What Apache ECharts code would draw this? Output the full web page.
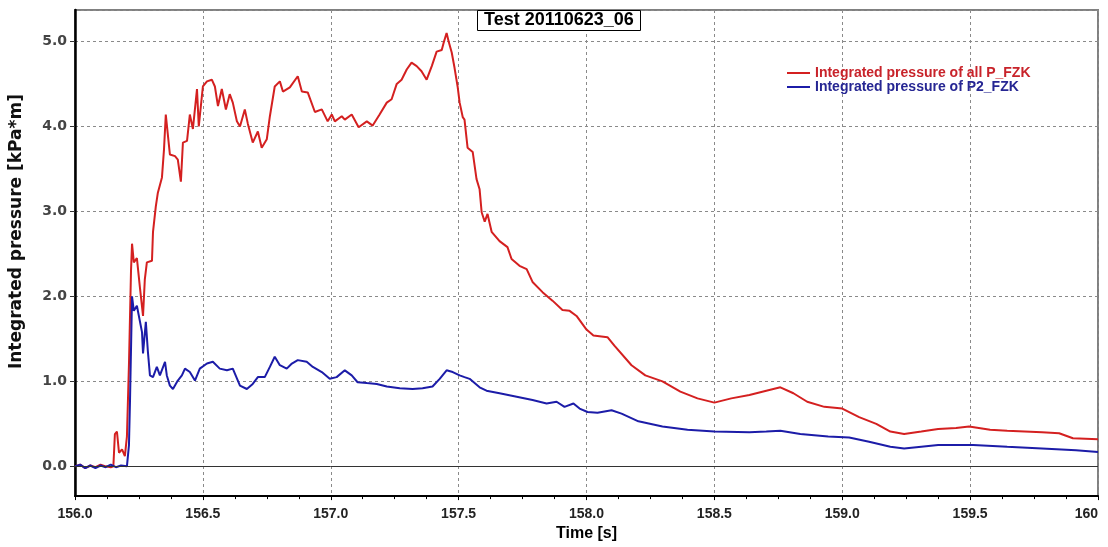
<!DOCTYPE html>
<html><head><meta charset="utf-8">
<script src="https://cdn.jsdelivr.net/npm/echarts@6/dist/echarts.min.js"></script>
<style>html,body{margin:0;padding:0;background:#fff}#c{width:1108px;height:547px}</style>
</head><body><div id="c"></div>
<script>
const chartTitle = 'Test 20110623_06';
const xAxisName = 'Time [s]';
const yAxisName = 'Integrated pressure [kPa*m]';
const seriesNames = ['Integrated pressure of all P_FZK', 'Integrated pressure of P2_FZK'];

// [time (s), integrated pressure (kPa*m)]
const redData = [
[156.000,0.00],[156.020,0.02],[156.040,-0.02],[156.060,0.01],[156.080,-0.01],[156.100,0.02],[156.120,0.00],[156.140,-0.01],[156.150,0.00],[156.156,0.38],
[156.164,0.41],[156.172,0.16],[156.184,0.20],[156.195,0.12],[156.203,0.35],[156.211,1.20],[156.219,2.30],[156.223,2.62],[156.230,2.40],[156.242,2.45],
[156.254,2.10],[156.266,1.77],[156.273,2.20],[156.281,2.40],[156.301,2.42],[156.305,2.76],[156.316,3.06],[156.324,3.22],[156.340,3.40],[156.348,3.73],
[156.355,4.14],[156.371,3.67],[156.391,3.65],[156.402,3.61],[156.414,3.35],[156.422,3.81],[156.438,3.83],[156.449,4.14],[156.461,3.97],[156.477,4.44],
[156.484,4.00],[156.500,4.47],[156.516,4.53],[156.535,4.55],[156.547,4.47],[156.559,4.24],[156.574,4.44],[156.590,4.20],[156.605,4.38],[156.617,4.28],
[156.633,4.06],[156.645,4.00],[156.664,4.20],[156.676,4.03],[156.695,3.81],[156.715,3.94],[156.730,3.75],[156.750,3.85],[156.762,4.12],[156.781,4.47],
[156.801,4.53],[156.813,4.41],[156.840,4.46],[156.871,4.59],[156.887,4.41],[156.910,4.40],[156.938,4.17],[156.965,4.20],[156.988,4.06],[157.004,4.14],
[157.016,4.06],[157.043,4.12],[157.055,4.08],[157.082,4.14],[157.109,3.99],[157.141,4.06],[157.164,4.01],[157.191,4.14],[157.219,4.28],[157.238,4.32],
[157.258,4.50],[157.277,4.55],[157.297,4.67],[157.316,4.75],[157.336,4.71],[157.355,4.65],[157.375,4.55],[157.395,4.71],[157.414,4.88],[157.434,4.90],
[157.441,4.98],[157.453,5.10],[157.461,5.00],[157.473,4.87],[157.484,4.69],[157.496,4.47],[157.504,4.28],[157.516,4.11],[157.523,4.08],[157.535,3.75],
[157.555,3.70],[157.570,3.38],[157.582,3.26],[157.590,2.99],[157.602,2.88],[157.613,2.97],[157.629,2.76],[157.660,2.65],[157.691,2.58],[157.707,2.44],
[157.738,2.36],[157.766,2.32],[157.789,2.17],[157.828,2.05],[157.867,1.95],[157.906,1.84],[157.934,1.83],[157.961,1.77],[158.000,1.61],[158.027,1.54],
[158.082,1.52],[158.109,1.42],[158.176,1.19],[158.230,1.07],[158.297,1.00],[158.367,0.88],[158.434,0.80],[158.500,0.75],[158.566,0.80],[158.637,0.84],
[158.703,0.89],[158.758,0.93],[158.809,0.86],[158.863,0.76],[158.930,0.70],[159.000,0.68],[159.066,0.58],[159.133,0.50],[159.188,0.41],[159.242,0.38],
[159.309,0.41],[159.375,0.44],[159.445,0.45],[159.496,0.47],[159.578,0.43],[159.645,0.42],[159.781,0.40],[159.848,0.39],[159.902,0.33],[160.000,0.32]
];

const blueData = [
[156.000,0.00],[156.020,0.02],[156.040,-0.02],[156.060,0.01],[156.080,-0.02],[156.100,0.01],[156.120,-0.01],[156.140,0.02],[156.160,-0.01],[156.180,0.01],
[156.203,0.00],[156.211,0.25],[156.215,0.76],[156.223,2.00],[156.230,1.83],[156.242,1.89],[156.262,1.58],[156.266,1.33],[156.277,1.70],[156.285,1.35],
[156.293,1.07],[156.305,1.05],[156.320,1.17],[156.332,1.07],[156.352,1.23],[156.359,1.07],[156.371,0.95],[156.383,0.91],[156.402,1.01],[156.418,1.07],
[156.430,1.15],[156.449,1.11],[156.469,1.01],[156.488,1.15],[156.516,1.21],[156.539,1.23],[156.566,1.15],[156.594,1.13],[156.617,1.15],[156.645,0.95],
[156.672,0.91],[156.695,0.97],[156.715,1.05],[156.742,1.05],[156.762,1.17],[156.781,1.29],[156.801,1.19],[156.828,1.15],[156.848,1.21],[156.871,1.25],
[156.906,1.23],[156.930,1.17],[156.965,1.11],[156.996,1.03],[157.023,1.05],[157.055,1.13],[157.082,1.07],[157.105,0.99],[157.141,0.98],[157.180,0.97],
[157.219,0.94],[157.270,0.92],[157.320,0.91],[157.359,0.92],[157.398,0.94],[157.426,1.03],[157.453,1.13],[157.477,1.11],[157.504,1.07],[157.523,1.05],
[157.543,1.03],[157.582,0.93],[157.609,0.89],[157.660,0.86],[157.727,0.82],[157.789,0.78],[157.844,0.74],[157.883,0.76],[157.914,0.70],[157.949,0.74],
[157.973,0.68],[158.004,0.64],[158.043,0.63],[158.098,0.66],[158.137,0.62],[158.203,0.53],[158.297,0.47],[158.395,0.43],[158.500,0.41],[158.637,0.40],
[158.703,0.41],[158.758,0.42],[158.836,0.38],[158.945,0.35],[159.027,0.34],[159.105,0.29],[159.188,0.23],[159.242,0.21],[159.309,0.23],[159.375,0.25],
[159.512,0.25],[159.645,0.23],[159.781,0.21],[159.914,0.19],[160.000,0.17]
];

const redColor = '#d42020';
const blueColor = '#1c1ca8';

const chart = echarts.init(document.getElementById('c'), null, {renderer: 'canvas'});
const grid = {type: [3, 3], color: '#8a8a8a', width: 1};
chart.setOption({
  animation: false,
  backgroundColor: '#ffffff',
  title: {
    text: chartTitle, left: 477, top: 10, padding: [1, 7, 1, 7],
    borderColor: '#000', borderWidth: 1, backgroundColor: '#fff',
    textStyle: {fontFamily: 'Arial', fontWeight: 'bold', fontSize: 18, lineHeight: 19, color: '#000'},
    z: 10
  },
  legend: {
    orient: 'vertical', left: 782, top: 61, itemGap: 0, itemWidth: 23, itemHeight: 2, icon: 'rect',
    textStyle: {fontFamily: 'Arial', fontWeight: 'bold', fontSize: 14, lineHeight: 14},
    data: [
      {name: seriesNames[0], textStyle: {color: '#c8232a'}},
      {name: seriesNames[1], textStyle: {color: '#262693'}}
    ]
  },
  grid: {left: 75, right: 10, top: 10, bottom: 49, show: true, borderColor: '#808080', borderWidth: 2},
  xAxis: {
    type: 'value', min: 156, max: 160, interval: 0.5,
    name: xAxisName, nameLocation: 'middle', nameGap: 28,
    nameTextStyle: {fontFamily: 'Arial', fontWeight: 'bold', fontSize: 16, color: '#000'},
    axisLine: {onZero: false, lineStyle: {color: '#000', width: 2}},
    axisTick: {show: true, length: 4, lineStyle: {color: '#000'}},
    minorTick: {show: true, splitNumber: 4, length: 3, lineStyle: {color: '#000'}},
    axisLabel: {
      margin: 11, fontFamily: 'Arial', fontWeight: 'bold', fontSize: 14, color: '#222',
      alignMaxLabel: 'right',
      formatter: v => (Math.abs(v - 160) < 1e-9 ? '160' : v.toFixed(1))
    },
    splitLine: {show: true, lineStyle: grid}
  },
  yAxis: {
    type: 'value', min: -0.35, max: 5.37,
    name: yAxisName, nameLocation: 'middle', nameRotate: 90, nameGap: 50,
    nameTextStyle: {fontFamily: 'DejaVu Sans', fontWeight: 'bold', fontSize: 17, color: '#111', padding: [0, 0, 0, 43]},
    axisLine: {show: true, lineStyle: {color: '#000', width: 2.5}},
    axisTick: {show: true, length: 5, lineStyle: {color: '#333'}},
    axisLabel: {
      showMinLabel: false, showMaxLabel: false, margin: 8,
      fontFamily: 'DejaVu Sans', fontWeight: 'bold', fontSize: 14, color: '#444',
      formatter: v => (Math.abs(v - Math.round(v)) < 1e-9 ? v.toFixed(1) : '')
    },
    splitLine: {show: true, lineStyle: grid}
  },
  series: [
    {
      name: seriesNames[0], type: 'line', data: redData, showSymbol: false, symbol: 'none',
      lineStyle: {color: redColor, width: 2}, itemStyle: {color: redColor},
      markLine: {
        silent: true, symbol: ['none', 'none'], label: {show: false}, animation: false,
        lineStyle: {color: '#333', type: 'solid', width: 1},
        data: [{yAxis: 0}]
      }
    },
    {
      name: seriesNames[1], type: 'line', data: blueData, showSymbol: false, symbol: 'none',
      lineStyle: {color: blueColor, width: 2}, itemStyle: {color: blueColor}
    }
  ]
});
</script></body></html>
